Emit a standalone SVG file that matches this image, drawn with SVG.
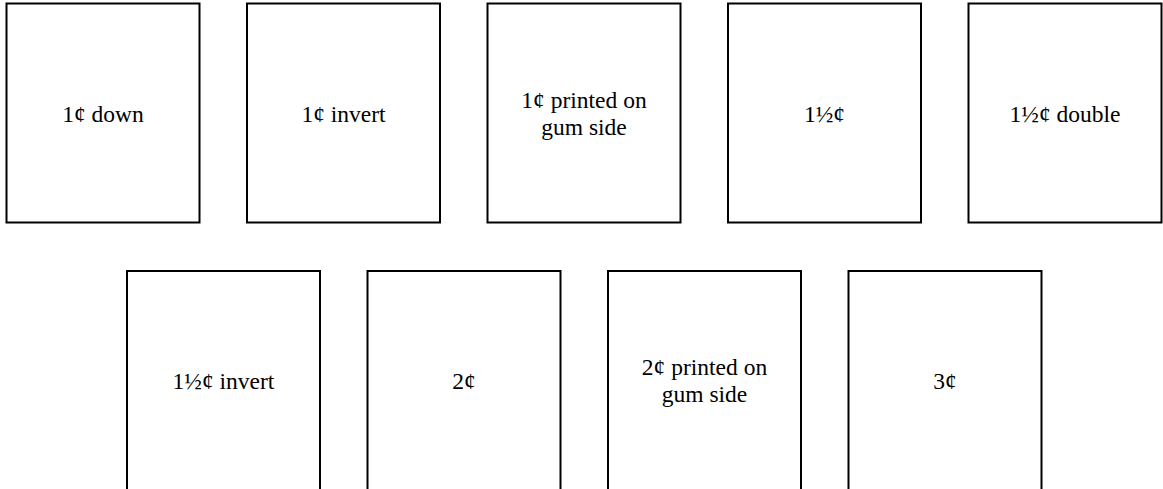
<svg xmlns="http://www.w3.org/2000/svg" width="1163" height="489" viewBox="0 0 1163 489">
<style>
.box{fill:#fff;stroke:#000;stroke-width:2}
.lbl{font-family:"Liberation Serif","Times New Roman",serif;font-size:23.5px;fill:#000;text-anchor:middle}
</style>
<rect width="1163" height="489" fill="#fff"/>
<g id="connectors"></g>
<g id="n1"><rect class="box" x="6.5" y="3.5" width="193" height="219"/><text class="lbl" x="103" y="121.5">1¢ down</text></g>
<g id="n2"><rect class="box" x="247" y="3.5" width="193" height="219"/><text class="lbl" x="343.5" y="121.5">1¢ invert</text></g>
<g id="n3"><rect class="box" x="487.5" y="3.5" width="193" height="219"/><text class="lbl" x="584" y="108">1¢ printed on</text><text class="lbl" x="584" y="135">gum side</text></g>
<g id="n4"><rect class="box" x="728" y="3.5" width="193" height="219"/><text class="lbl" x="824.5" y="121.5">1½¢</text></g>
<g id="n5"><rect class="box" x="968.5" y="3.5" width="193" height="219"/><text class="lbl" x="1065" y="121.5">1½¢ double</text></g>
<g id="n6"><rect class="box" x="127" y="271" width="193" height="219"/><text class="lbl" x="223.5" y="388.5">1½¢ invert</text></g>
<g id="n7"><rect class="box" x="367.5" y="271" width="193" height="219"/><text class="lbl" x="464" y="388.5">2¢</text></g>
<g id="n8"><rect class="box" x="608" y="271" width="193" height="219"/><text class="lbl" x="704.5" y="375">2¢ printed on</text><text class="lbl" x="704.5" y="402">gum side</text></g>
<g id="n9"><rect class="box" x="848.5" y="271" width="193" height="219"/><text class="lbl" x="945" y="388.5">3¢</text></g>
</svg>
